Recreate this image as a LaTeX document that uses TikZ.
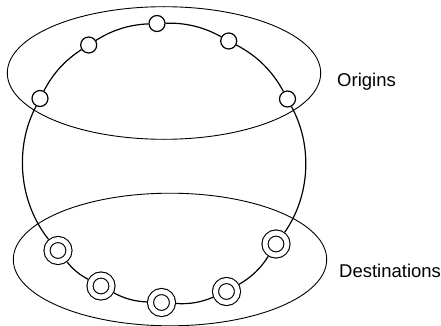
\documentclass[tikz,border=0pt]{standalone}
\usepackage{fontspec}
\setmainfont{Liberation Sans}
\usetikzlibrary{shapes.geometric}
\begin{document}
\begin{tikzpicture}[x=1pt,y=-1pt,
  setellipse/.style={ellipse, draw, line width=0.9pt, inner sep=0pt, minimum width=313.4pt, minimum height=132.6pt},
  orignode/.style={circle, draw, fill=white, line width=1.2pt, inner sep=0pt, minimum size=16pt},
  destnode/.style={circle, draw, fill=white, line width=1.1pt, double, double distance=4.9pt, inner sep=0pt, minimum size=22pt, outer sep=3.55pt},
  ringline/.style={line width=1.2pt},
  arcto/.style={bend left=#1, looseness=0.9},
  lbl/.style={anchor=base west, inner sep=0pt, font=\fontsize{18.5}{22}\selectfont}]
\useasboundingbox (0,0) rectangle (441,326);
% sets
\node[setellipse] (origset) at (164,73) {};
\node[setellipse] (destset) at (170,259.5) {};
% origins
\node[orignode] (n1) at (40,98.5) {};
\node[orignode] (n2) at (88.7,45) {};
\node[orignode] (n3) at (157,23.5) {};
\node[orignode] (n4) at (228.7,41) {};
\node[orignode] (n5) at (287.5,99) {};
% destinations
\node[destnode] (d1) at (58,250.5) {};
\node[destnode] (d2) at (101,286) {};
\node[destnode] (d3) at (161.5,302.5) {};
\node[destnode] (d4) at (226.5,291.5) {};
\node[destnode] (d5) at (276,244) {};
% ring
\draw[ringline] (n1) to[arcto=15] (n2);
\draw[ringline] (n2) to[arcto=15] (n3);
\draw[ringline] (n3) to[arcto=15.5] (n4);
\draw[ringline] (n4) to[arcto=17] (n5);
\draw[ringline] (n5) to[arcto=32] (d5);
\draw[ringline] (d5) to[arcto=14] (d4);
\draw[ringline] (d4) to[arcto=13.5] (d3);
\draw[ringline] (d3) to[arcto=13] (d2);
\draw[ringline] (d2) to[arcto=12] (d1);
\draw[ringline] (d1) to[arcto=33.5] (n1);
% labels
\node[lbl] (olabel) at (337,87) {Origins};
\node[lbl] (dlabel) at (339,277) {Destinations};
\end{tikzpicture}
\end{document}
